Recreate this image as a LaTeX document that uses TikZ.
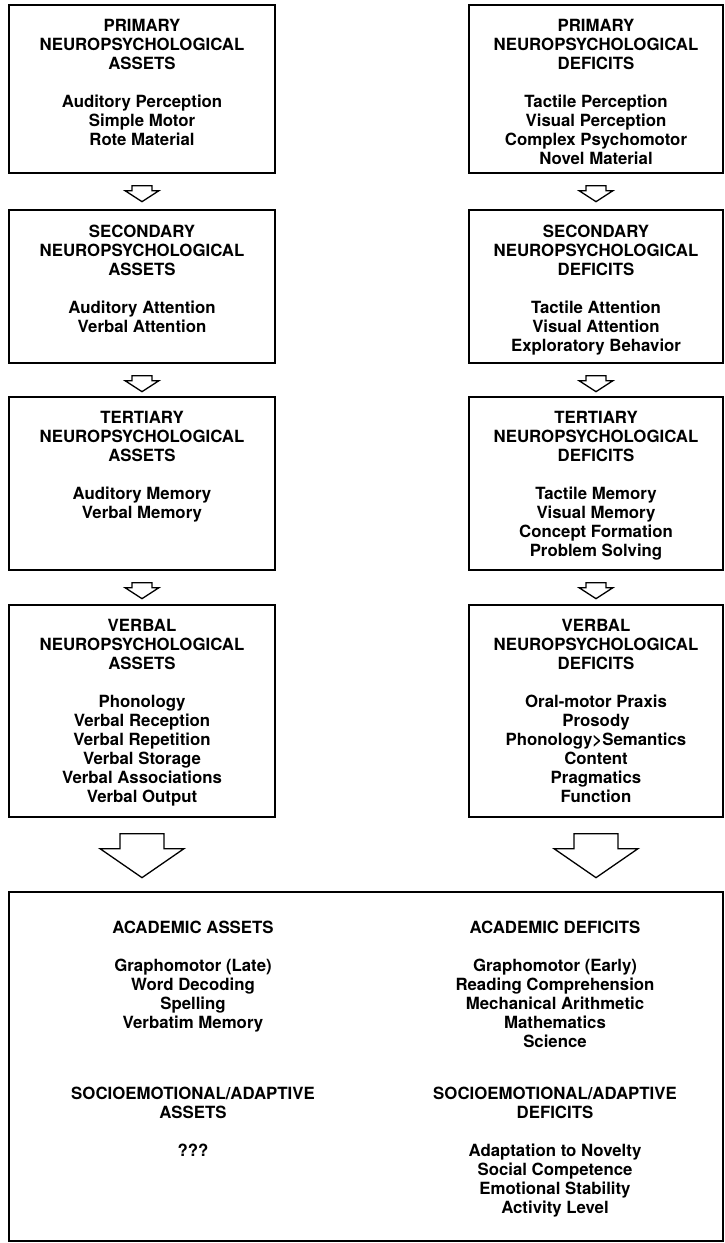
\documentclass[tikz,border=0pt]{standalone}
\usepackage{fontspec}
\setmainfont{TeX Gyre Heros}
\usepackage{tikz}
\usetikzlibrary{positioning}

\begin{document}
\begin{tikzpicture}[x=1pt,y=-1pt]
        \tikzset{panel/.style = {draw, line width=1.3pt, inner sep=0pt}}
        \tikzset{entry/.style = {align=center, inner sep=0pt, font=\bfseries\fontsize{16.8}{19}\selectfont}}
        \tikzset{hollow/.style = {draw, line width=1.3pt, line join=miter}}

        \useasboundingbox (0,0) rectangle (724,1243);

        % boxes
        \foreach \n/\y/\h in {1/89/168, 2/286.5/153, 3/483.5/173, 4/711/212} {
            \node[panel, minimum width=266, minimum height=\h] (a\n) at (142,\y) {};
            \node[panel, minimum width=254, minimum height=\h] (d\n) at (596,\y) {};
        }
        \node[panel, minimum width=714, minimum height=349] (bot) at (366,1066.5) {};

        % texts, assets
        \node[entry, below=15pt of a1.north] (a1t) {PRIMARY\\NEUROPSYCHOLOGICAL\\ASSETS\\[19pt]
            Auditory Perception\\Simple Motor\\Rote Material};
        \node[entry, below=15pt of a2.north] (a2t) {SECONDARY\\NEUROPSYCHOLOGICAL\\ASSETS\\[19pt]
            Auditory Attention\\Verbal Attention};
        \node[entry, below=15pt of a3.north] (a3t) {TERTIARY\\NEUROPSYCHOLOGICAL\\ASSETS\\[19pt]
            Auditory Memory\\Verbal Memory};
        \node[entry, below=15pt of a4.north] (a4t) {VERBAL\\NEUROPSYCHOLOGICAL\\ASSETS\\[19pt]
            Phonology\\Verbal Reception\\Verbal Repetition\\Verbal Storage\\Verbal Associations\\Verbal Output};

        % texts, deficits
        \node[entry, below=15pt of d1.north] (d1t) {PRIMARY\\NEUROPSYCHOLOGICAL\\DEFICITS\\[19pt]
            Tactile Perception\\Visual Perception\\Complex Psychomotor\\Novel Material};
        \node[entry, below=15pt of d2.north] (d2t) {SECONDARY\\NEUROPSYCHOLOGICAL\\DEFICITS\\[19pt]
            Tactile Attention\\Visual Attention\\Exploratory Behavior};
        \node[entry, below=15pt of d3.north] (d3t) {TERTIARY\\NEUROPSYCHOLOGICAL\\DEFICITS\\[19pt]
            Tactile Memory\\Visual Memory\\Concept Formation\\Problem Solving};
        \node[entry, below=15pt of d4.north] (d4t) {VERBAL\\NEUROPSYCHOLOGICAL\\DEFICITS\\[19pt]
            Oral-motor Praxis\\Prosody\\Phonology>Semantics\\Content\\Pragmatics\\Function};

        % texts, outcome box
        \node[entry, anchor=north] (acas) at (193,921) {ACADEMIC ASSETS\\[19pt]
            Graphomotor (Late)\\Word Decoding\\Spelling\\Verbatim Memory};
        \node[entry, anchor=north] (acde) at (555,921) {ACADEMIC DEFICITS\\[19pt]
            Graphomotor (Early)\\Reading Comprehension\\Mechanical Arithmetic\\Mathematics\\Science};
        \node[entry, anchor=north] (soas) at (193,1087) {SOCIOEMOTIONAL/ADAPTIVE\\ASSETS\\[19pt]
            ???};
        \node[entry, anchor=north] (sode) at (555,1087) {SOCIOEMOTIONAL/ADAPTIVE\\DEFICITS\\[19pt]
            Adaptation to Novelty\\Social Competence\\Emotional Stability\\Activity Level};

        % arrows
        \foreach \c in {a,d}
            \foreach \n in {1,2,3}
                \draw[hollow] (\c\n.south) ++(-10,12) -- ++(20,0) -- ++(0,5) -- ++(7,0)
                    -- ++(-17,11) -- ++(-17,-11) -- ++(7,0) -- cycle;

        \foreach \c in {a,d}
            \draw[hollow] (\c4.south) ++(-22,16) -- ++(44,0) -- ++(0,15) -- ++(20,0)
                -- ++(-42,29) -- ++(-42,-29) -- ++(20,0) -- cycle;

    \end{tikzpicture}
\end{document}
